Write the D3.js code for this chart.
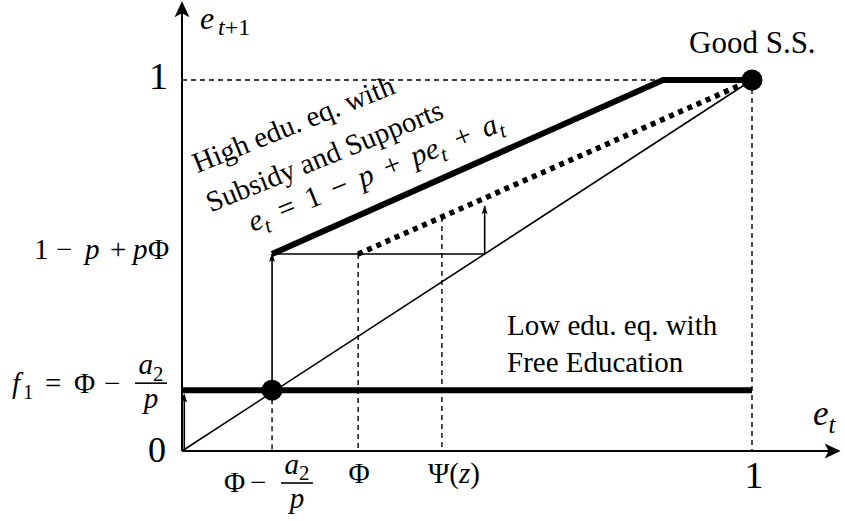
<!DOCTYPE html>
<html>
<head>
<meta charset="utf-8">
<script src="https://cdn.jsdelivr.net/npm/d3@7"></script>
<style>
  body { margin: 0; background: #fff; }
  text { font-family: "Liberation Serif", "Times New Roman", serif; fill: #000; }
</style>
</head>
<body>
<svg id="chart" width="845" height="521"></svg>
<script>
'use strict'

// values (e_t on x, e_{t+1} on y, both 0..1)
const xMarks = [0.158, 0.309, 0.456, 1]       // Φ − a2/p, Φ, Ψ(z), 1
const yMarks = [0, 0.164, 0.531, 1]           // 0, f1, 1 − p + pΦ, 1
const diagonal = [[0, 0], [1, 1]]
const lowEq = [[0, 0.164], [1, 0.164]]
const highEq = [[0.158, 0.531], [0.844, 1], [1, 1]]
const subsidyEq = [[0.309, 0.531], [1, 1]]
const stepLine = [[0.158, 0.531], [0.531, 0.531]]
const steadyStates = [[0.158, 0.164], [1, 1]]
const guides = [
  [[0, 1], [0.844, 1]],
  [[1, 1], [1, 0]],
  [[0.158, 0.164], [0.158, 0]],
  [[0.309, 0.531], [0.309, 0]],
  [[0.456, 0.631], [0.456, 0]]
]
const arrows = [
  [[0.158, 0.164], [0.158, 0.531]],
  [[0.531, 0.531], [0.531, 0.66]],
  [[0.004, 0], [0.004, 0.152]]
]

const svg = d3.select('#chart')
const x = d3.scaleLinear().domain([0, 1]).range([182, 752])
const y = d3.scaleLinear().domain([0, 1]).range([451, 80])
const line = d3.line().x(d => x(d[0])).y(d => y(d[1]))

const defs = svg.append('defs')
defs.append('marker')
  .attr('id', 'bigHead').attr('markerUnits', 'userSpaceOnUse')
  .attr('markerWidth', 20).attr('markerHeight', 20)
  .attr('refX', 0).attr('refY', 0).attr('viewBox', '-16 -10 20 20')
  .attr('orient', 'auto')
  .append('path').attr('d', 'M2,0 L-14,-7.5 L-10,0 L-14,7.5 Z').attr('fill', '#000')
defs.append('marker')
  .attr('id', 'smallHead').attr('markerUnits', 'userSpaceOnUse')
  .attr('markerWidth', 12).attr('markerHeight', 12)
  .attr('refX', 0).attr('refY', 0).attr('viewBox', '-10 -6 12 12')
  .attr('orient', 'auto')
  .append('path').attr('d', 'M1,0 L-8,-3 L-6,0 L-8,3 Z').attr('fill', '#000')

// axes
svg.append('line')
  .attr('x1', x(0)).attr('y1', y(0)).attr('x2', x(1.152)).attr('y2', y(0))
  .attr('stroke', '#000').attr('stroke-width', 2).attr('marker-end', 'url(#bigHead)')
svg.append('line')
  .attr('x1', x(0)).attr('y1', y(0)).attr('x2', x(0)).attr('y2', y(1.207))
  .attr('stroke', '#000').attr('stroke-width', 2).attr('marker-end', 'url(#bigHead)')

// dashed guides
svg.selectAll('.guide').data(guides).enter().append('path')
  .attr('class', 'guide')
  .attr('d', line)
  .attr('fill', 'none').attr('stroke', '#000')
  .attr('stroke-width', 1.4).attr('stroke-dasharray', '5,4')

// 45 degree line and step
svg.append('path').attr('d', line(diagonal))
  .attr('fill', 'none').attr('stroke', '#000').attr('stroke-width', 1.6)
svg.append('path').attr('d', line(stepLine))
  .attr('fill', 'none').attr('stroke', '#000').attr('stroke-width', 1.6)

svg.selectAll('.arrow').data(arrows).enter().append('path')
  .attr('class', 'arrow')
  .attr('d', line)
  .attr('fill', 'none').attr('stroke', '#000').attr('stroke-width', 1.6)
  .attr('marker-end', 'url(#smallHead)')

// equilibrium curves
svg.append('path').attr('d', line(lowEq))
  .attr('fill', 'none').attr('stroke', '#000').attr('stroke-width', 6)
svg.append('path').attr('d', line(subsidyEq))
  .attr('fill', 'none').attr('stroke', '#000').attr('stroke-width', 5.5)
  .attr('stroke-dasharray', '5,5')
svg.append('path').attr('d', line(highEq))
  .attr('fill', 'none').attr('stroke', '#000').attr('stroke-width', 6)
  .attr('stroke-linejoin', 'miter')

svg.selectAll('.ss').data(steadyStates).enter().append('circle')
  .attr('class', 'ss')
  .attr('cx', d => x(d[0])).attr('cy', d => y(d[1])).attr('r', 10.5)
  .attr('fill', '#000')

// math text: parts are [text, style, x?]; style 'i' italic, 'n' upright,
// 's' italic subscript, 'sn' upright subscript
function math (parent, px, py, size, anchor, parts) {
  const t = parent.append('text')
    .attr('x', px).attr('y', py).attr('font-size', size).attr('text-anchor', anchor)
    .style('white-space', 'pre')
  let off = 0
  parts.forEach(p => {
    const sub = p[1] === 's' || p[1] === 'sn'
    const target = sub ? size * 0.22 : 0
    const ts = t.append('tspan').text(p[0])
      .attr('dy', target - off)
      .attr('font-size', sub ? size * 0.72 : size)
      .attr('font-style', (p[1] === 'i' || p[1] === 's') ? 'italic' : 'normal')
    if (p[2] !== undefined) ts.attr('x', p[2])
    off = target
  })
  return t
}

function frac (cx, barY, w, size, num, den) {
  svg.append('line')
    .attr('x1', cx - w / 2).attr('x2', cx + w / 2)
    .attr('y1', barY).attr('y2', barY)
    .attr('stroke', '#000').attr('stroke-width', 1.6)
  math(svg, cx, barY - 9, size, 'middle', num)
  math(svg, cx, barY + 25, size, 'middle', den)
}

// axis titles
svg.append('text').attr('x', 200).attr('y', 29).attr('font-size', 32)
  .attr('font-style', 'italic').text('e')
svg.append('text').attr('x', 218).attr('y', 35).attr('font-size', 24)
  .call(s => {
    s.append('tspan').attr('font-style', 'italic').text('t')
    s.append('tspan').text('+1')
  })
math(svg, 813, 425, 35, 'start', [['e', 'i'], ['t', 's']])

// y tick labels
math(svg, 168, 89, 38, 'end', [['1', 'n']])
math(svg, 166, 462, 36, 'end', [['0', 'n']])
math(svg, 33, 259, 29, 'start', [['1', 'n', 34], ['−', 'n', 56], ['p', 'i', 85], ['+', 'n', 110], ['p', 'i', 133], ['Φ', 'n', 148]])
math(svg, 10, 393, 29, 'start', [['f', 'i', 12], ['1', 'sn', 23], ['=', 'n', 45], ['Φ', 'n', 74], ['−', 'n', 104]])
frac(151, y(yMarks[1]) - 7, 32, 29, [['a', 'i'], ['2', 'sn']], [['p', 'i']])

// x tick labels
math(svg, 224, 492, 29, 'start', [['Φ', 'n', 224], ['−', 'n', 250]])
frac(297, 483, 32, 29, [['a', 'i'], ['2', 'sn']], [['p', 'i']])
math(svg, x(xMarks[1]) + 1, 483, 29, 'middle', [['Φ', 'n']])
math(svg, x(xMarks[2]) + 12, 483, 29, 'middle', [['Ψ(', 'n'], ['z', 'i'], [')', 'n']])
math(svg, x(xMarks[3]) + 2, 488, 38, 'middle', [['1', 'n']])

// annotations
svg.append('text').attr('x', 689).attr('y', 53).attr('font-size', 31).text('Good S.S.')
svg.append('text').attr('x', 507).attr('y', 335).attr('font-size', 29).text('Low edu. eq. with')
svg.append('text').attr('x', 507).attr('y', 372).attr('font-size', 29).text('Free Education')

const rot = -22
svg.append('text').attr('font-size', 29).attr('text-anchor', 'middle')
  .attr('transform', `translate(297,133) rotate(${rot})`).text('High edu. eq. with')
svg.append('text').attr('font-size', 29).attr('text-anchor', 'middle')
  .attr('transform', `translate(328,165) rotate(${rot})`).text('Subsidy and Supports')
const g3 = svg.append('g').attr('transform', `translate(379,181) rotate(${rot})`)
const sp = ' \u2006'
math(g3, 0, 0, 30, 'middle', [['e', 'i'], ['t', 's'], [sp + '=' + sp + '1' + sp + '−' + sp, 'n'], ['p', 'i'], [sp + '+' + sp, 'n'], ['pe', 'i'], ['t', 's'], [sp + '+' + sp, 'n'], ['a', 'i'], ['t', 's']])
</script>
</body>
</html>
